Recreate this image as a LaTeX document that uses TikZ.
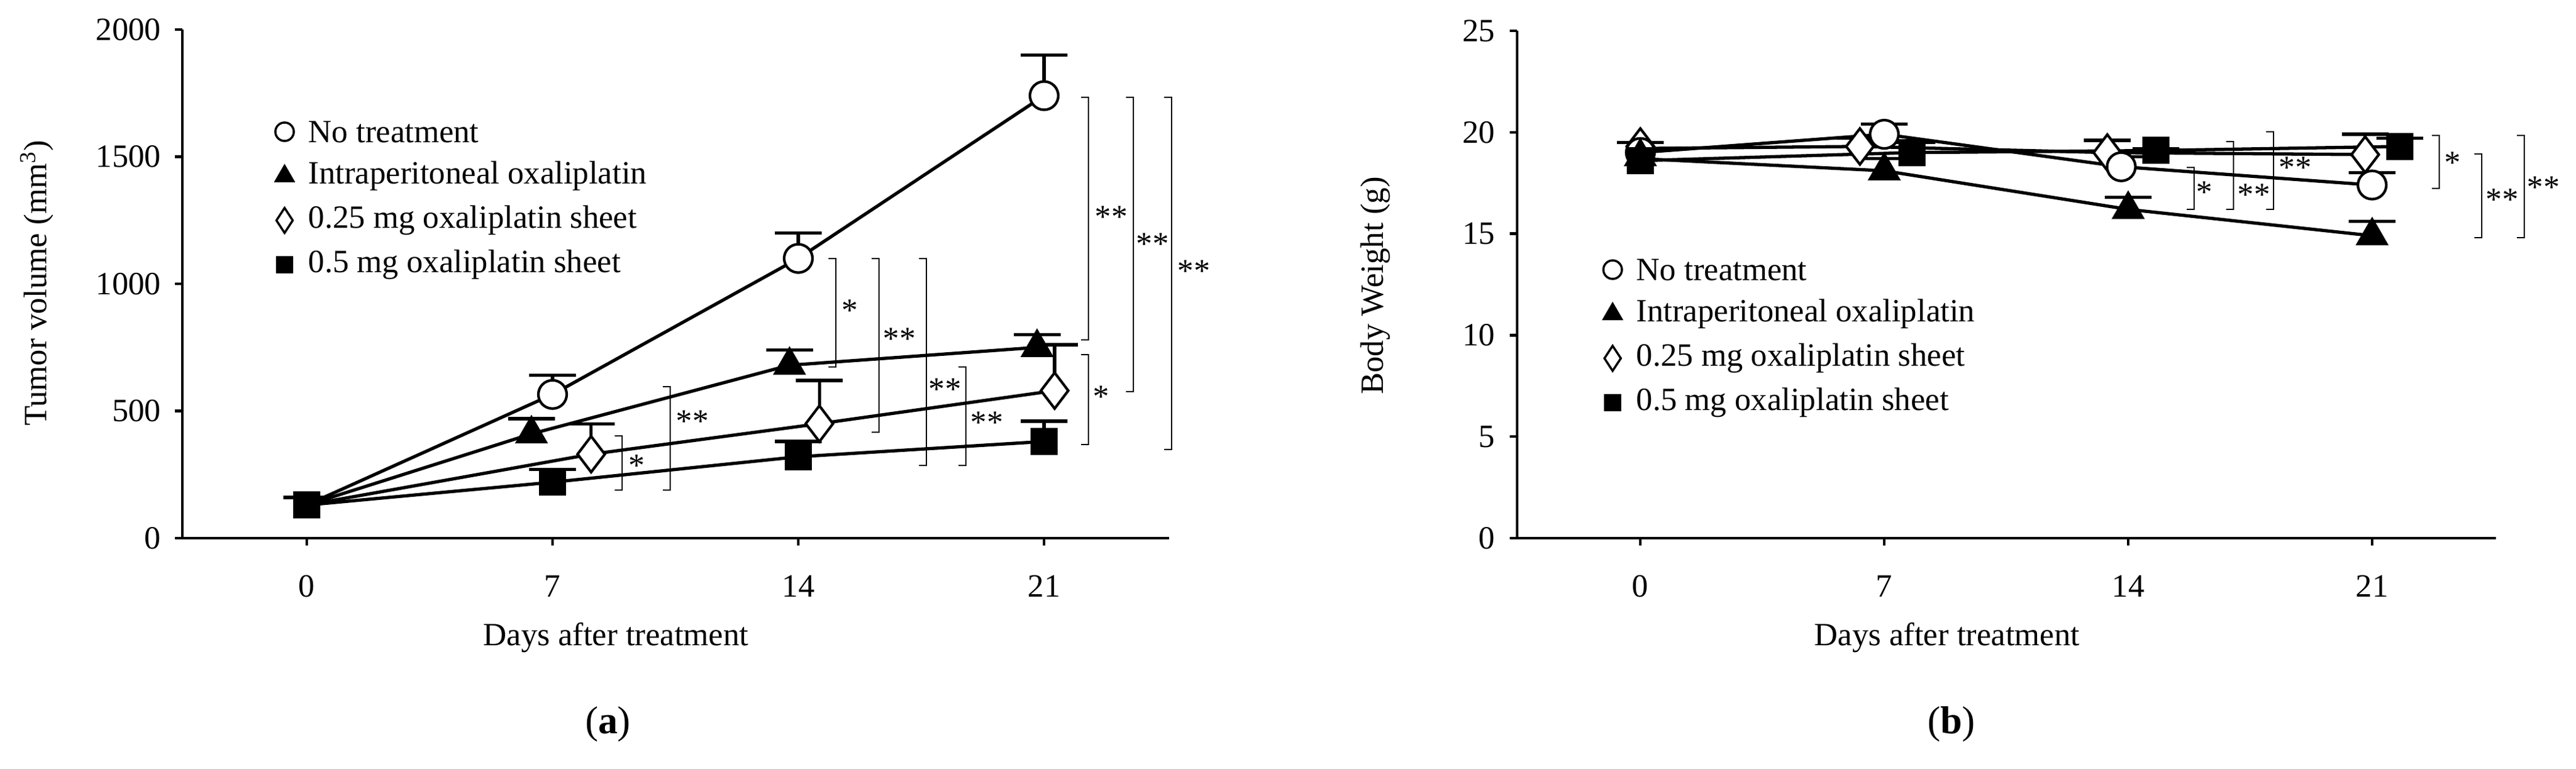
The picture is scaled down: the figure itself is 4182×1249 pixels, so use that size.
\documentclass[tikz,border=0pt]{standalone}
\usepackage{fontspec}
\setmainfont{Liberation Serif}
\usetikzlibrary{shapes.geometric}
\begin{document}
\begin{tikzpicture}[x=0.01cm,y=-0.01cm,
  lw/.style={line width=1.5pt},
  axis/.style={line width=1.3pt},
  txt/.style={font=\fontsize{15}{17}\selectfont, inner sep=0pt},
  tk/.style={font=\fontsize{15}{17}\selectfont, inner sep=0pt},
  mc/.style={circle,draw,fill=white,line width=1.2pt,minimum size=0.46cm,inner sep=0pt},
  mt/.style={regular polygon,regular polygon sides=3,fill=black,minimum size=0.62cm,inner sep=0pt},
  md/.style={diamond,draw,fill=white,line width=1.2pt,minimum width=0.46cm,minimum height=0.6cm,inner sep=0pt},
  ms/.style={rectangle,fill=black,minimum size=0.44cm,inner sep=0pt},
  lmc/.style={circle,draw,line width=1pt,minimum size=0.3cm,inner sep=0pt},
  lmt/.style={regular polygon,regular polygon sides=3,fill=black,minimum size=0.4cm,inner sep=0pt},
  lmd/.style={diamond,draw,line width=1pt,minimum width=0.28cm,minimum height=0.42cm,inner sep=0pt},
  lms/.style={rectangle,fill=black,minimum size=0.28cm,inner sep=0pt},
  br/.style={line width=0.8pt},
  st/.style={font=\fontsize{15}{17}\selectfont, inner sep=0pt}
]
\useasboundingbox (0,0) rectangle (4182,1249);
% ================= panel a =================
\newcommand{\ax}[1]{498+57*#1}
\newcommand{\ay}[1]{874-0.413*#1}
\draw[axis] (296,48) -- (296,874) -- (1898,874);
\foreach \v in {0,500,1000,1500,2000}{
  \draw[axis] (284,{\ay{\v}}) -- (296,{\ay{\v}});
  \node[tk,anchor=east] at (262,{\ay{\v}}) {\v};}
\foreach \d in {0,7,14,21}{
  \draw[axis] ({\ax{\d}},874) -- ({\ax{\d}},886);
  \node[tk] at ({\ax{\d}},952) {\d};}
\node[txt] (axl) at (1000,1036) {Days after treatment};
\node[txt,rotate=90] (ayl) at (60,460) {Tumor volume (mm\textsuperscript{3})};
\node[font=\fontsize{18}{20}\selectfont,inner sep=0pt] (la) at (987,1176) {(\textbf{a})};
% data a
\coordinate (a0) at ({\ax{0}},{\ay{130}});
% lines
\draw[lw] (a0) -- ({\ax{7}},{\ay{565}}) -- ({\ax{14}},{\ay{1100}}) -- ({\ax{21}},{\ay{1740}});
\draw[lw] (a0) -- ({\ax{6.4}},{\ay{410}}) -- ({\ax{13.75}},{\ay{680}}) -- ({\ax{20.8}},{\ay{750}});
\draw[lw] (a0) -- ({\ax{8.1}},{\ay{330}}) -- ({\ax{14.6}},{\ay{450}}) -- ({\ax{21.3}},{\ay{580}});
\draw[lw] (a0) -- ({\ax{7}},{\ay{220}}) -- ({\ax{14}},{\ay{320}}) -- ({\ax{21}},{\ay{380}});
% error bars
\foreach \d/\v/\e in {7/565/640,14/1100/1200,21/1740/1900,6.4/410/470,13.75/680/740,20.8/750/800,8.1/330/450,14.6/450/620,21.3/580/760,7/220/270,14/320/380,21/380/460,0/130/160}{
  \draw[lw] ({\ax{\d}},{\ay{\v}}) -- ({\ax{\d}},{\ay{\e}});
  \draw[lw] ({\ax{\d}-38},{\ay{\e}}) -- ({\ax{\d}+38},{\ay{\e}});}
% markers
\node[ms] (as0) at (a0) {};
\node[mc] (ac7) at ({\ax{7}},{\ay{565}}) {};
\node[mc] (ac14) at ({\ax{14}},{\ay{1100}}) {};
\node[mc] (ac21) at ({\ax{21}},{\ay{1740}}) {};
\node[mt] (at7) at ({\ax{6.4}},{\ay{410}}) {};
\node[mt] (at14) at ({\ax{13.75}},{\ay{680}}) {};
\node[mt] (at21) at ({\ax{20.8}},{\ay{750}}) {};
\node[md] (ad7) at ({\ax{8.1}},{\ay{330}}) {};
\node[md] (ad14) at ({\ax{14.6}},{\ay{450}}) {};
\node[md] (ad21) at ({\ax{21.3}},{\ay{580}}) {};
\node[ms] (as7) at ({\ax{7}},{\ay{220}}) {};
\node[ms] (as14) at ({\ax{14}},{\ay{320}}) {};
\node[ms] (as21) at ({\ax{21}},{\ay{380}}) {};
% legend a
\node[lmc] (lac) at (462,214) {}; \node[txt,anchor=west] at (500,214) {No treatment};
\node[lmt] (lat) at (462,286) {}; \node[txt,anchor=west] at (500,286) {Intraperitoneal oxaliplatin};
\node[lmd] (lad) at (462,358) {}; \node[txt,anchor=west] at (500,358) {0.25 mg oxaliplatin sheet};
\node[lms] (las) at (462,430) {}; \node[txt,anchor=west] at (500,430) {0.5 mg oxaliplatin sheet};
% brackets a
\foreach \x/\ya/\yb/\lx/\ly/\s in {1010/708/796/1034/756/*,1088/628/796/1124/684/**,1357/420/596/1380/504/*,1427/420/702/1460/550/**,1504/420/756/1534/632/**,1568/596/756/1602/686/**,1767/576/722/1788/644/*,1767/158/552/1804/352/**,1840/158/636/1871/396/**,1902/158/730/1938/440/**}{
  \draw[br] (\x-12,\ya) -- (\x,\ya) -- (\x,\yb) -- (\x-12,\yb);
  \node[st] at (\lx,\ly) {\s};}
% ================= panel b =================
\newcommand{\bx}[1]{2663+56.57*#1}
\newcommand{\by}[1]{874-32.96*#1}
\draw[axis] (2463,50) -- (2463,874) -- (4052,874);
\foreach \v in {0,5,10,15,20,25}{
  \draw[axis] (2451,{\by{\v}}) -- (2463,{\by{\v}});
  \node[tk,anchor=east] at (2428,{\by{\v}}) {\v};}
\foreach \d in {0,7,14,21}{
  \draw[axis] ({\bx{\d}},874) -- ({\bx{\d}},886);
  \node[tk] at ({\bx{\d}},952) {\d};}
\node[txt] (bxl) at (3161,1036) {Days after treatment};
\node[txt,rotate=90] (byl) at (2233,464) {Body Weight (g)};
\node[font=\fontsize{18}{20}\selectfont,inner sep=0pt] (lb) at (3168,1176) {(\textbf{b})};
\draw[lw] ({\bx{0}},{\by{19.0}}) -- ({\bx{7}},{\by{19.9}}) -- ({\bx{13.8}},{\by{18.3}}) -- ({\bx{21}},{\by{17.4}});
\draw[lw] ({\bx{0}},{\by{18.7}}) -- ({\bx{7}},{\by{18.1}}) -- ({\bx{14}},{\by{16.2}}) -- ({\bx{21}},{\by{14.9}});
\draw[lw] ({\bx{0}},{\by{19.2}}) -- ({\bx{6.3}},{\by{19.3}}) -- ({\bx{13.4}},{\by{19.0}}) -- ({\bx{20.8}},{\by{18.9}});
\draw[lw] ({\bx{0}},{\by{18.6}}) -- ({\bx{7.8}},{\by{19.0}}) -- ({\bx{14.8}},{\by{19.1}}) -- ({\bx{21.8}},{\by{19.3}});
\foreach \d/\v/\e in {0/19.0/19.5,7/19.9/20.4,13.8/18.3/18.8,21/17.4/18.0,7/18.1/18.7,14/16.2/16.8,21/14.9/15.6,6.3/19.3/19.7,13.4/19.0/19.6,20.8/18.9/19.9,7.8/19.0/19.5,14.8/19.1/19.2,21.8/19.3/19.7}{
  \draw[lw] ({\bx{\d}},{\by{\v}}) -- ({\bx{\d}},{\by{\e}});
  \draw[lw] ({\bx{\d}-38},{\by{\e}}) -- ({\bx{\d}+38},{\by{\e}});}
\node[md] (bd0) at ({\bx{0}},{\by{19.3}}) {};
\node[mc] (bc0) at ({\bx{0}},{\by{19.0}}) {};
\node[mt] (bt0) at ({\bx{0}},{\by{18.8}}) {};
\node[ms] (bs0) at ({\bx{0}},{\by{18.6}}) {};
\node[md] (bd7) at ({\bx{6.3}},{\by{19.3}}) {};
\node[mc] (bc7) at ({\bx{7}},{\by{19.9}}) {};
\node[mt] (bt7) at ({\bx{7}},{\by{18.1}}) {};
\node[ms] (bs7) at ({\bx{7.8}},{\by{19.0}}) {};
\node[md] (bd14) at ({\bx{13.4}},{\by{19.0}}) {};
\node[mc] (bc14) at ({\bx{13.8}},{\by{18.3}}) {};
\node[mt] (bt14) at ({\bx{14}},{\by{16.2}}) {};
\node[ms] (bs14) at ({\bx{14.8}},{\by{19.1}}) {};
\node[md] (bd21) at ({\bx{20.8}},{\by{18.9}}) {};
\node[mc] (bc21) at ({\bx{21}},{\by{17.4}}) {};
\node[mt] (bt21) at ({\bx{21}},{\by{14.9}}) {};
\node[ms] (bs21) at ({\bx{21.8}},{\by{19.3}}) {};
\node[lmc] (lbc) at (2618,438) {}; \node[txt,anchor=west] at (2656,438) {No treatment};
\node[lmt] (lbt) at (2618,510) {}; \node[txt,anchor=west] at (2656,510) {Intraperitoneal oxaliplatin};
\node[lmd] (lbd) at (2618,582) {}; \node[txt,anchor=west] at (2656,582) {0.25 mg oxaliplatin sheet};
\node[lms] (lbs) at (2618,654) {}; \node[txt,anchor=west] at (2656,654) {0.5 mg oxaliplatin sheet};
\foreach \x/\ya/\yb/\lx/\ly/\s in {3562/272/340/3579/312/*,3626/230/340/3659/316/**,3691/214/340/3726/272/**,3960/220/306/3982/264/*,4029/250/386/4062/324/**,4098/220/386/4129/304/**}{
  \draw[br] (\x-12,\ya) -- (\x,\ya) -- (\x,\yb) -- (\x-12,\yb);
  \node[st] at (\lx,\ly) {\s};}
\end{tikzpicture}
\end{document}
